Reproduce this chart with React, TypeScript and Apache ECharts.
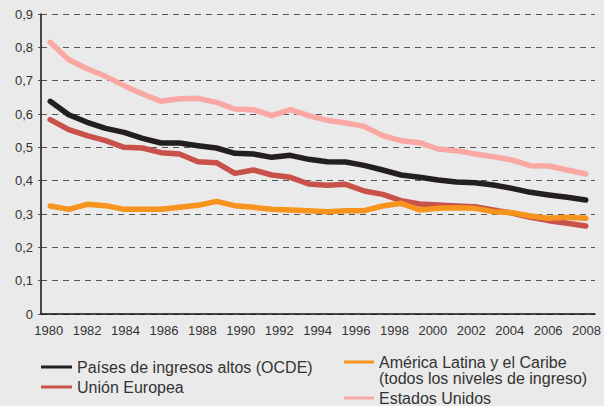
import React, { useEffect, useRef } from "react";
import * as echarts from "echarts";

// 30 data points spread across the 1980–2008 axis
const pointLabels = [
  "1980", "1981", "1982", "1983", "1984", "1985", "1986", "1987", "1988", "1989",
  "1990", "1991", "1992", "1993", "1994", "1995", "1996", "1997", "1998", "1999",
  "2000", "2001", "2002", "2003", "2004", "2005", "2006", "2007", "2008", "2009",
];
const yearTicks = [1980, 1982, 1984, 1986, 1988, 1990, 1992, 1994, 1996, 1998, 2000, 2002, 2004, 2006, 2008];

const ocde = [0.638, 0.598, 0.575, 0.557, 0.545, 0.527, 0.513, 0.513, 0.505, 0.498, 0.482, 0.480, 0.470, 0.476, 0.464, 0.457, 0.456, 0.446, 0.432, 0.417, 0.410, 0.402, 0.396, 0.394, 0.387, 0.377, 0.365, 0.357, 0.350, 0.342];
const ue = [0.583, 0.553, 0.535, 0.520, 0.500, 0.498, 0.484, 0.480, 0.457, 0.454, 0.422, 0.432, 0.417, 0.410, 0.390, 0.386, 0.389, 0.369, 0.359, 0.340, 0.330, 0.327, 0.324, 0.322, 0.312, 0.303, 0.290, 0.280, 0.272, 0.264];
const alc = [0.324, 0.314, 0.329, 0.325, 0.314, 0.314, 0.314, 0.320, 0.326, 0.338, 0.325, 0.320, 0.314, 0.312, 0.310, 0.307, 0.310, 0.310, 0.324, 0.332, 0.312, 0.317, 0.319, 0.317, 0.307, 0.304, 0.294, 0.287, 0.290, 0.287];
const eeuu = [0.815, 0.763, 0.736, 0.713, 0.685, 0.660, 0.638, 0.646, 0.647, 0.635, 0.615, 0.613, 0.595, 0.613, 0.595, 0.581, 0.573, 0.563, 0.535, 0.520, 0.514, 0.495, 0.490, 0.480, 0.472, 0.462, 0.445, 0.444, 0.432, 0.420];

const names = [
  "Países de ingresos altos (OCDE)",
  "Unión Europea",
  "América Latina y el Caribe",
  "Estados Unidos",
];
const alcSubtitle = "(todos los niveles de ingreso)";
const colors = ["#231f20", "#c8524a", "#f7941d", "#f9a8a4"];
const seriesData = [ocde, ue, alc, eeuu];

const FONT = "'Liberation Sans', Arial, sans-serif";

export default function App() {
  const ref = useRef<HTMLDivElement>(null);
  useEffect(() => {
    if (!ref.current) return;
    const chart = echarts.init(ref.current, undefined, { renderer: "svg" });
    const legendText = { color: "#333", fontSize: 16, fontFamily: FONT, lineHeight: 16 };
    chart.setOption({
      animation: false,
      backgroundColor: "#eaeaea",
      textStyle: { fontFamily: FONT },
      grid: { left: 41, right: 7, top: 14, bottom: 92, containLabel: false },
      xAxis: [
        {
          type: "category",
          data: pointLabels,
          boundaryGap: true,
          axisLine: { show: true, lineStyle: { color: "#111", width: 1.5 } },
          axisTick: { show: false },
          axisLabel: { show: false },
          splitLine: { show: false },
        },
        {
          type: "value",
          position: "bottom",
          min: 1979.6,
          max: 2008.44,
          axisLine: { show: false },
          axisTick: { show: false },
          splitLine: { show: false },
          axisLabel: {
            customValues: yearTicks,
            formatter: (v: number) => String(v),
            color: "#333",
            fontSize: 13,
            fontFamily: FONT,
            margin: 10,
          },
        },
      ],
      yAxis: {
        type: "value",
        min: 0,
        max: 0.9,
        interval: 0.1,
        axisLine: { show: true, lineStyle: { color: "#111", width: 1.5 } },
        axisTick: { show: true, length: 3, lineStyle: { color: "#555" } },
        axisLabel: {
          color: "#333",
          fontSize: 13,
          fontFamily: FONT,
          margin: 8,
          formatter: (v: number) => (v === 0 ? "0" : v.toFixed(1).replace(".", ",")),
        },
        splitLine: { show: true, lineStyle: { color: "#555", width: 1, type: [6, 5] } },
      },
      legend: [
        {
          orient: "vertical",
          left: 36,
          top: 354,
          itemWidth: 31,
          itemHeight: 3,
          itemGap: 4,
          icon: "rect",
          textStyle: legendText,
          data: [names[0], names[1]],
        },
        {
          orient: "vertical",
          left: 339,
          top: 333,
          itemWidth: 30,
          itemHeight: 3,
          itemGap: 4,
          icon: "rect",
          textStyle: legendText,
          formatter: (name: string) => (name === names[2] ? "\n" + name + "\n" + alcSubtitle : name),
          data: [names[2], names[3]],
        },
      ],
      series: seriesData.map((d, i) => ({
        name: names[i],
        type: "line",
        xAxisIndex: 0,
        data: d,
        symbol: "none",
        color: colors[i],
        lineStyle: { color: colors[i], width: 5.5, cap: "round", join: "round" },
      })),
    });
    return () => chart.dispose();
  }, []);
  return (
    <div
      ref={ref}
      style={{ position: "absolute", left: 0, top: 0, width: 604, height: 406 }}
    />
  );
}
